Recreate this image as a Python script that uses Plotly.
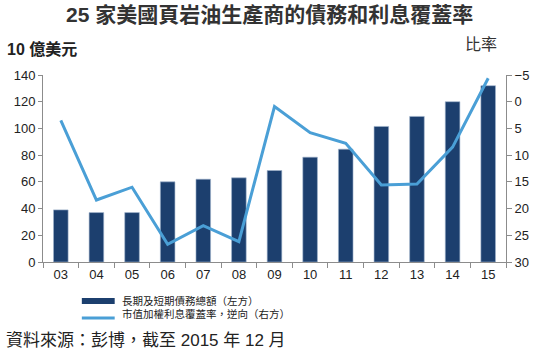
import plotly.graph_objects as go

years = ["03", "04", "05", "06", "07", "08", "09", "10", "11", "12", "13", "14", "15"]
debt = [39, 37, 37, 60, 62, 63, 68.5, 78.5, 84.5, 101.5, 109, 120, 132]
coverage = [3.5, 18.4, 16.0, 26.7, 23.2, 26.2, 0.9, 5.8, 7.8, 15.6, 15.4, 8.5, -4.4]

left_ticks = [0, 20, 40, 60, 80, 100, 120, 140]
right_ticks = [-5, 0, 5, 10, 15, 20, 25, 30]

BAR = "#1c3f6e"
LINE = "#4a9fd6"
TXT = "#222222"
AX = "#8c8c8c"
FONT = "Liberation Sans, Arial, Noto Sans CJK TC, sans-serif"

fig = go.Figure()
fig.add_trace(go.Bar(x=years, y=debt, marker=dict(color=BAR, line=dict(color="#9fb3cc", width=0.6)),
                     width=0.41, yaxis="y", name="長期及短期債務總額（左方）"))
fig.add_trace(go.Scatter(x=years, y=coverage, mode="lines", line=dict(color=LINE, width=3),
                         yaxis="y2", name="市值加權利息覆蓋率，逆向（右方）"))

fig.update_layout(
    width=541, height=351,
    margin=dict(l=43, r=33, t=75, b=89),
    paper_bgcolor="white", plot_bgcolor="white",
    showlegend=False,
    font=dict(family=FONT, size=13, color=TXT),
    xaxis=dict(type="category", showline=True, linecolor=AX, linewidth=1,
               ticks="outside", ticklen=5, tickcolor=AX, tickson="boundaries",
               showgrid=False, tickfont=dict(size=13, color=TXT)),
    yaxis=dict(range=[0, 140], tickvals=left_ticks, showline=True, linecolor=AX, linewidth=1,
               ticks="outside", ticklen=4, tickcolor=AX, showgrid=False, zeroline=False,
               tickfont=dict(size=13, color=TXT)),
    yaxis2=dict(range=[30, -5], tickvals=right_ticks, overlaying="y", side="right",
                showline=True, linecolor=AX, linewidth=1, ticks="outside", ticklen=5,
                tickcolor=AX, showgrid=False, zeroline=False,
                tickfont=dict(size=13, color=TXT)),
)

# paper coordinates span the plot area; convert pixel positions
pl, pr, pt, pb = 43, 508, 75, 262
def pp(x, y):
    return (x - pl) / (pr - pl), (pb - y) / (pb - pt)

items = [
    ("<b>25 家美國頁岩油生產商的債務和利息覆蓋率</b>", 270, 14, "center", 21, "#333333"),
    ("<b>10 億美元</b>", 5, 49, "left", 16, TXT),
    ("比率", 465, 44, "left", 16, "#333333"),
    ("長期及短期債務總額（左方）", 120, 300.5, "left", 10.5, TXT),
    ("市值加權利息覆蓋率，逆向（右方）", 120, 314, "left", 10.5, TXT),
    ("資料來源：彭博，截至 2015 年 12 月", 4, 340, "left", 17, TXT),
]
for t, x, y, xa, s, c in items:
    xx, yy = pp(x, y)
    fig.add_annotation(text=t, x=xx, y=yy, xref="paper", yref="paper", showarrow=False,
                       xanchor=xa, yanchor="middle",
                       font=dict(family=FONT, size=s, color=c))

x0, y0 = pp(82, 298)
x1, y1 = pp(115, 304)
fig.add_shape(type="rect", xref="paper", yref="paper", x0=x0, y0=y0, x1=x1, y1=y1,
              fillcolor=BAR, line=dict(width=0))
lx0, ly = pp(82, 318)
lx1, _ = pp(115, 318)
fig.add_shape(type="line", xref="paper", yref="paper", x0=lx0, y0=ly, x1=lx1, y1=ly,
              line=dict(color=LINE, width=3))

fig.write_html("out.html")
